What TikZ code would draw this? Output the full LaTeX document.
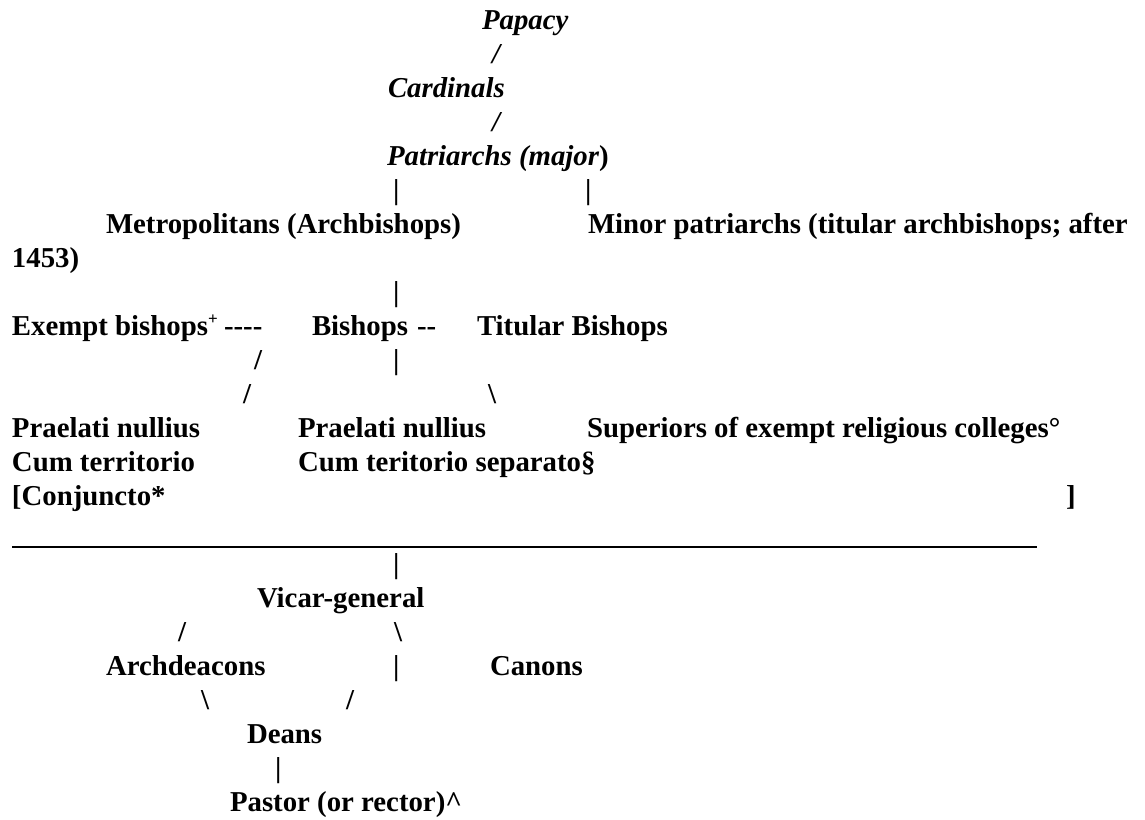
\documentclass[tikz,border=0pt]{standalone}
\usepackage{fontspec}
\setmainfont{Liberation Serif}[Ligatures=TeXOff]
\begin{document}
\begin{tikzpicture}[x=1pt,y=-1pt,
  txt/.style={anchor=base west,inner sep=0pt,outer sep=0pt,font=\fontsize{28.8}{34}\selectfont\bfseries},
  itx/.style={txt,font=\fontsize{28.8}{34}\selectfont\bfseries\itshape},
  rule/.style={line width=1.6pt,black}]
\useasboundingbox[fill=white] (0,0) rectangle (1145,819);
% rows: baseline = 29 + 34k
\node[itx] (papacy) at (482,29) {Papacy};
\node[itx] (s1) at (492,63) {/};
\node[itx] (cardinals) at (388,97) {Cardinals};
\node[itx] (s2) at (492,131) {/};
\node[txt] (patriarchs) at (387,165) {\textit{Patriarchs (major})};
\node[txt] (b1) at (393,199) {|};
\node[txt] (b2) at (585,199) {|};
\node[txt] (metro) at (106,233) {Metropolitans (Archbishops)};
\node[txt] (minor) at (588,233) {Minor patriarchs (titular archbishops; after};
\node[txt] (minor2) at (12,267) {1453)};
\node[txt] (b3) at (393,301) {|};
\node[txt] (exempt) at (12,335) {Exempt bishops\raisebox{11pt}{\fontsize{17}{17}\selectfont +}};
\node[txt] (d1) at (224,335) {----};
\node[txt] (bishops) at (312,335) {Bishops};
\node[txt] (d2) at (417,335) {--};
\node[txt] (titular) at (477,335) {Titular Bishops};
\node[txt] (s3) at (254,369) {/};
\node[txt] (b4) at (393,369) {|};
\node[txt] (s4) at (243,403) {/};
\node[txt] (bs1) at (488,403) {\textbackslash};
\node[txt] (pn1) at (12,437) {Praelati nullius};
\node[txt] (pn2) at (298,437) {Praelati nullius};
\node[txt] (sup) at (587,437) {Superiors of exempt religious colleges°};
\node[txt] (cum1) at (12,471) {Cum territorio};
\node[txt] (cum2) at (298,471) {Cum teritorio separato§};
\node[txt] (conj) at (12,505) {[Conjuncto*};
\node[txt] (rb) at (1066,505) {]};
\coordinate (ulA) at (12,547);
\coordinate (ulB) at (1037,547);
\draw[rule] (ulA) -- (ulB);
\node[txt] (b5) at (393,573) {|};
\node[txt] (vicar) at (257,607) {Vicar-general};
\node[txt] (s5) at (178,641) {/};
\node[txt] (bs2) at (394,641) {\textbackslash};
\node[txt] (arch) at (106,675) {Archdeacons};
\node[txt] (b6) at (393,675) {|};
\node[txt] (canons) at (490,675) {Canons};
\node[txt] (bs3) at (201,709) {\textbackslash};
\node[txt] (s6) at (346,709) {/};
\node[txt] (deans) at (247,743) {Deans};
\node[txt] (b7) at (275,777) {|};
\node[txt] (pastor) at (230,811) {Pastor (or rector)\textasciicircum};
\end{tikzpicture}
\end{document}
